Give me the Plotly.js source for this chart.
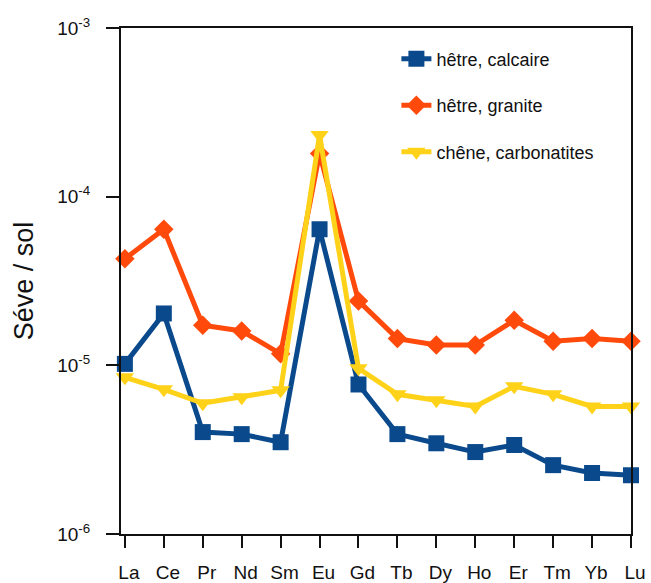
<!DOCTYPE html>
<html>
<head>
<meta charset="utf-8">
<script src="https://cdn.plot.ly/plotly-3.0.1.min.js"></script>
<style>html,body{margin:0;padding:0;background:#fff;}#chart{width:651px;height:583px;}</style>
</head>
<body>
<div id="chart"></div>
<script>
const elements = ["La","Ce","Pr","Nd","Sm","Eu","Gd","Tb","Dy","Ho","Er","Tm","Yb","Lu"];
const hetreCalcaire = [1.02e-5,2.03e-5,4.02e-6,3.91e-6,3.50e-6,6.41e-5,7.7e-6,3.91e-6,3.45e-6,3.06e-6,3.37e-6,2.56e-6,2.30e-6,2.23e-6];
const hetreGranite = [4.28e-5,6.41e-5,1.73e-5,1.60e-5,1.17e-5,1.80e-4,2.41e-5,1.44e-5,1.32e-5,1.32e-5,1.85e-5,1.39e-5,1.44e-5,1.39e-5];
const cheneCarbonatites = [8.49e-6,7.21e-6,5.96e-6,6.47e-6,7.11e-6,2.32e-4,9.6e-6,6.73e-6,6.21e-6,5.71e-6,7.51e-6,6.73e-6,5.71e-6,5.71e-6];
const seriesNames = ["hêtre, calcaire","hêtre, granite","chêne, carbonatites"];
const yTickVals = [1e-6,1e-5,1e-4,1e-3];
const yTickText = ["10<sup>-6</sup>","10<sup>-5</sup>","10<sup>-4</sup>","10<sup>-3</sup>"];

const traces = [
  {x: elements, y: hetreCalcaire, name: seriesNames[0], legendgroup: "a", mode: "lines+markers", cliponaxis: false,
   line: {color: "#0a4a8c", width: 5}, marker: {symbol: "square", size: 16, color: "#0a4a8c"}},
  {x: elements, y: hetreGranite, name: seriesNames[1], legendgroup: "b", mode: "lines+markers", cliponaxis: false,
   line: {color: "#ff4a0c", width: 5}, marker: {symbol: "diamond", size: 15, color: "#ff4a0c"}},
  {x: elements, y: cheneCarbonatites, name: seriesNames[2], legendgroup: "c", mode: "lines+markers", cliponaxis: false,
   line: {color: "#ffd21a", width: 5}, marker: {symbol: "triangle-down", size: 16, color: "#ffd21a"}}
];

const layout = {
  width: 651, height: 583,
  margin: {l: 121, r: 20, t: 28, b: 49},
  paper_bgcolor: "#fff", plot_bgcolor: "#fff",
  font: {family: "Liberation Sans, Arial, sans-serif", color: "#111"},
  showlegend: true,
  legend: {x: 0.54, y: 0.975, xanchor: "left", yanchor: "top", bgcolor: "rgba(0,0,0,0)",
           font: {size: 18, color: "#111"}, traceorder: "grouped", tracegroupgap: 20},
  xaxis: {type: "category", range: [-0.1, 13.0], showgrid: false, zeroline: false,
          showline: true, linecolor: "#111", linewidth: 2, mirror: true,
          ticks: "outside", ticklen: 12, tickwidth: 2, tickcolor: "#111",
          tickfont: {size: 19, color: "#111"}, ticklabelstandoff: 8, ticklabelshift: 4},
  yaxis: {type: "log", range: [-6, -3], showgrid: false, zeroline: false,
          showline: true, linecolor: "#111", linewidth: 2, mirror: true,
          ticks: "outside", ticklen: 13, tickwidth: 2, tickcolor: "#111",
          tickvals: yTickVals, ticktext: yTickText,
          tickfont: {size: 19, color: "#111"}, ticklabelstandoff: 12,
          title: {text: "Séve / sol", font: {size: 27, color: "#111"}, standoff: 16}}
};

Plotly.newPlot("chart", traces, layout, {displayModeBar: false, staticPlot: true});
</script>
</body>
</html>
